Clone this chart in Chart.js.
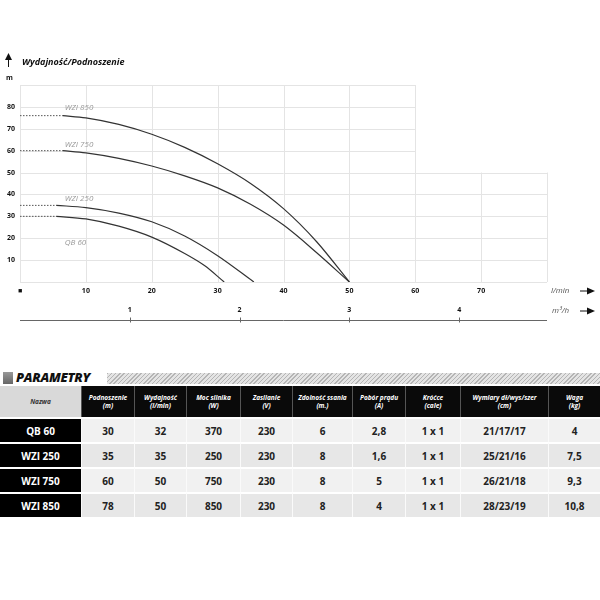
<!DOCTYPE html>
<html>
<head>
<meta charset="utf-8">
<script src="https://cdn.jsdelivr.net/npm/chart.js@4.4.1/dist/chart.umd.min.js"></script>
<style>
  body { margin: 0; background: #fff; font-family: "Open Sans", sans-serif; }
  #wrap { position: relative; width: 600px; height: 600px; overflow: hidden; }
  #chart { position: absolute; left: 0; top: 0; }
  .sq { position: absolute; left: 3px; top: 372px; width: 10px; height: 12px; background: linear-gradient(#999, #666); }
  .ttl { position: absolute; left: 16px; top: 368px; font: italic 800 13px "Open Sans", sans-serif; color: #111; letter-spacing: -0.3px; }
  .hatch { position: absolute; left: 107px; top: 373px; width: 493px; height: 11px;
    background: repeating-linear-gradient(135deg, #b5b5b5 0 1px, #e4e4e4 1px 3px); }
  table { position: absolute; left: 0; top: 386px; width: 600px; border-collapse: separate; border-spacing: 0; table-layout: fixed; }
  th { background: #0a0a0a; color: #fff; font: italic 700 6.5px/8px "Open Sans", sans-serif; height: 31px; padding: 0; border-left: 1px solid #555; }
  th.first { background: #d9d9d9; color: #333; border-left: none; }
  td { height: 23px; padding: 0; text-align: center; font: 700 10px "Open Sans", sans-serif; color: #222;
    border-top: 2px solid #fff; border-left: 1px solid #fafafa; }
  td.name { background: #000; color: #fff; border-left: none; border-top: 2px solid #fff; }
  tr.odd td { background: #f1f1f1; }
  tr.even td { background: #e7e7e7; }
  tr td.name { background: #000; }
</style>
</head>
<body>
<div id="wrap">
  <canvas id="chart" width="600" height="330"></canvas>
  <div class="sq"></div>
  <div class="ttl">PARAMETRY</div>
  <div class="hatch"></div>
  <table id="params"></table>
</div>
<script>
// curves: flow in l/min, head in m
const qb60Flow = [5.5, 10, 15, 20, 25, 28, 31]
const qb60Head = [30, 28.8, 25.5, 20.5, 13, 7.5, 0]
const wzi250Flow = [5.5, 10, 15, 20, 25, 30, 35.5]
const wzi250Head = [35, 34, 31.5, 27.5, 21, 12, 0]
const wzi750Flow = [6.5, 10, 15, 20, 25, 30, 35, 40, 45, 50]
const wzi750Head = [60, 59, 56.5, 53, 48.5, 43, 35.5, 26, 13.5, 0]
const wzi850Flow = [6.5, 10, 15, 20, 25, 30, 35, 40, 45, 50]
const wzi850Head = [76, 75, 72, 67.5, 61.5, 54, 45, 33.5, 18.5, 0]

const seriesNames = ['QB 60', 'WZI 250', 'WZI 750', 'WZI 850']
const yTicks = [10, 20, 30, 40, 50, 60, 70, 80]
const xTicks = [10, 20, 30, 40, 50, 60, 70]
const m3hTicks = [1, 2, 3, 4]

// table
const tableHeaders = ['Nazwa', 'Podnoszenie<br>(m)', 'Wydajność<br>(l/min)', 'Moc silnika<br>(W)', 'Zasilanie<br>(V)',
  'Zdolność ssania<br>(m.)', 'Pobór prądu<br>(A)', 'Króćce<br>(cale)', 'Wymiary dł/wys/szer<br>(cm)', 'Waga<br>(kg)']
const colWidths = [81, 53, 52, 54, 52, 60, 53, 55, 88, 52]
const names = ['QB 60', 'WZI 250', 'WZI 750', 'WZI 850']
const podnoszenie = ['30', '35', '60', '78']
const wydajnosc = ['32', '35', '50', '50']
const moc = ['370', '250', '750', '850']
const zasilanie = ['230', '230', '230', '230']
const ssanie = ['6', '8', '8', '8']
const prad = ['2,8', '1,6', '5', '4']
const krocce = ['1 x 1', '1 x 1', '1 x 1', '1 x 1']
const wymiary = ['21/17/17', '25/21/16', '26/21/18', '28/23/19']
const waga = ['4', '7,5', '9,3', '10,8']

const curves = [
  [qb60Flow, qb60Head],
  [wzi250Flow, wzi250Head],
  [wzi750Flow, wzi750Head],
  [wzi850Flow, wzi850Head]
]

const datasets = []
curves.forEach(([f, h], i) => {
  datasets.push({
    label: seriesNames[i],
    data: f.map((x, k) => ({ x: x, y: h[k] })),
    borderColor: '#333',
    borderWidth: 1.2,
    pointRadius: 0,
    cubicInterpolationMode: 'monotone'
  })
  // dotted shut-off part
  datasets.push({
    label: seriesNames[i] + ' dot',
    data: [{ x: 0, y: h[0] }, { x: f[0], y: h[0] }],
    borderColor: '#555',
    borderWidth: 1,
    borderDash: [1.5, 1.5],
    pointRadius: 0
  })
})

// light grid, shorter in the upper right like the original sheet
const gridPlugin = {
  id: 'grid',
  beforeDatasetsDraw(chart) {
    const { ctx, scales: { x, y } } = chart
    ctx.save()
    ctx.strokeStyle = '#e4e4e4'
    ctx.lineWidth = 1
    for (let v = 0; v <= 90; v += 10) {
      const py = Math.round(y.getPixelForValue(v)) + 0.5
      ctx.beginPath()
      ctx.moveTo(x.getPixelForValue(0), py)
      ctx.lineTo(x.getPixelForValue(v > 50 ? 60 : 80), py)
      ctx.stroke()
    }
    for (let v = 0; v <= 80; v += 10) {
      const px = Math.round(x.getPixelForValue(v)) + 0.5
      ctx.beginPath()
      ctx.moveTo(px, y.getPixelForValue(v > 60 ? 50 : 90))
      ctx.lineTo(px, y.getPixelForValue(0))
      ctx.stroke()
    }
    ctx.restore()
  }
}

function arrowRight(ctx, x0, yy) {
  ctx.beginPath()
  ctx.moveTo(x0, yy)
  ctx.lineTo(x0 + 9, yy)
  ctx.stroke()
  ctx.beginPath()
  ctx.moveTo(x0 + 7, yy - 3.5)
  ctx.lineTo(x0 + 15, yy)
  ctx.lineTo(x0 + 7, yy + 3.5)
  ctx.closePath()
  ctx.fill()
}

const textPlugin = {
  id: 'texts',
  afterDraw(chart) {
    const { ctx, scales: { x, y, x2 } } = chart
    ctx.save()
    // y title + arrow
    ctx.fillStyle = '#111'
    ctx.strokeStyle = '#111'
    ctx.lineWidth = 1
    ctx.beginPath()
    ctx.moveTo(8.5, 53); ctx.lineTo(5, 60); ctx.lineTo(12, 60); ctx.closePath(); ctx.fill()
    ctx.beginPath(); ctx.moveTo(8.5, 60); ctx.lineTo(8.5, 67); ctx.stroke()
    ctx.font = 'italic 700 9px "Open Sans"'
    ctx.textBaseline = 'middle'
    ctx.fillText('Wydajność/Podnoszenie', 22, 62)
    ctx.font = '700 7px "Open Sans"'
    ctx.fillText('m', 6, 78)

    // series labels
    ctx.fillStyle = '#9a9a9a'
    ctx.font = 'italic 8px "Open Sans"'
    const lx = x.getPixelForValue(6.8)
    ctx.fillText('WZI 850', lx, y.getPixelForValue(wzi850Head[0]) - 8)
    ctx.fillText('WZI 750', lx, y.getPixelForValue(wzi750Head[0]) - 6)
    ctx.fillText('WZI 250', lx, y.getPixelForValue(wzi250Head[0]) - 7)
    ctx.fillText('QB 60', lx, y.getPixelForValue(18))

    // unit labels on the right
    ctx.fillStyle = '#555'
    ctx.strokeStyle = '#111'
    ctx.font = 'italic 8px "Open Sans"'
    const ly1 = y.getPixelForValue(0) + 9
    const ly2 = x2.top + 11
    ctx.fillText('l/min', 551, ly1)
    ctx.fillText('m³/h', 552, ly2)
    ctx.fillStyle = '#111'
    arrowRight(ctx, 580, ly1)
    arrowRight(ctx, 580, ly2)

    // m3/h axis line with ticks
    const ly = x2.top + 20.5
    ctx.strokeStyle = '#666'
    ctx.beginPath()
    ctx.moveTo(x2.left, ly)
    ctx.lineTo(x2.right, ly)
    ctx.stroke()
    m3hTicks.forEach(v => {
      const px = Math.round(x2.getPixelForValue(v)) + 0.5
      ctx.beginPath(); ctx.moveTo(px, ly - 3); ctx.lineTo(px, ly + 2); ctx.stroke()
    })
    ctx.restore()
  }
}

const tickFont = { family: 'Open Sans', size: 7, weight: 'bold' }

new Chart(document.getElementById('chart'), {
  type: 'line',
  data: { datasets: datasets },
  options: {
    responsive: false,
    animation: false,
    layout: { padding: { top: 85, right: 53, bottom: 6, left: 0 } },
    plugins: { legend: { display: false }, tooltip: { enabled: false } },
    scales: {
      x: {
        type: 'linear', position: 'bottom', min: 0, max: 80,
        grid: { display: false }, border: { display: false },
        ticks: {
          stepSize: 10, color: '#111', font: tickFont, padding: -3, maxRotation: 0,
          callback: v => (v === 0 ? '■' : (xTicks.includes(v) ? v : ''))
        },
        afterFit: s => { s.height = 18 }
      },
      x2: {
        type: 'linear', position: 'bottom', min: 0, max: 80 * 0.06,
        grid: { display: false }, border: { display: false },
        ticks: {
          stepSize: 1, color: '#111', font: tickFont, padding: -2, maxRotation: 0,
          callback: v => (m3hTicks.includes(v) ? v : '')
        },
        afterFit: s => { s.height = 24 }
      },
      y: {
        min: 0, max: 90,
        grid: { display: false, drawTicks: false }, border: { display: false },
        ticks: {
          stepSize: 10, color: '#111', font: tickFont, padding: 5,
          callback: v => (yTicks.includes(v) ? v : '')
        },
        afterFit: s => { s.width = 20 }
      }
    }
  },
  plugins: [gridPlugin, textPlugin]
})

// parameter table
const cols = [podnoszenie, wydajnosc, moc, zasilanie, ssanie, prad, krocce, wymiary, waga]
let htmlStr = '<colgroup>' + colWidths.map(w => '<col style="width:' + w + 'px">').join('') + '</colgroup>'
htmlStr += '<tr>' + tableHeaders.map((h, i) => '<th class="' + (i === 0 ? 'first' : '') + '">' + h + '</th>').join('') + '</tr>'
names.forEach((n, r) => {
  htmlStr += '<tr class="' + (r % 2 === 0 ? 'odd' : 'even') + '"><td class="name">' + n + '</td>'
  cols.forEach(c => { htmlStr += '<td>' + c[r] + '</td>' })
  htmlStr += '</tr>'
})
document.getElementById('params').innerHTML = htmlStr
</script>
</body>
</html>
